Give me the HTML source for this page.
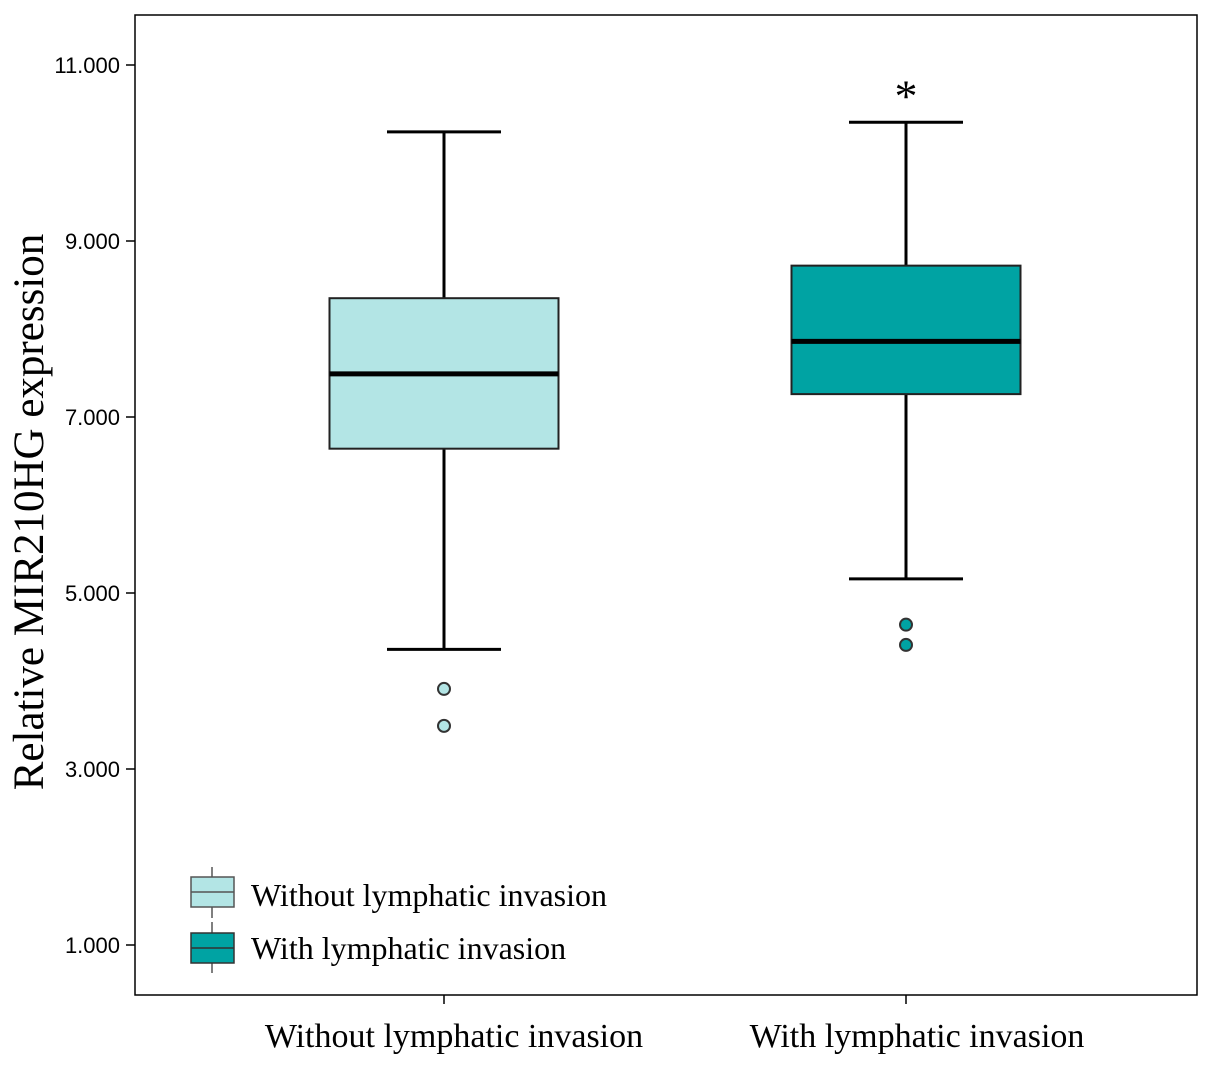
<!DOCTYPE html>
<html><head><meta charset="utf-8"><style>
body{margin:0;background:#fff;}
svg{display:block;}
text{font-family:"Liberation Serif",serif;fill:#000;}
.tick{font-family:"Liberation Sans",sans-serif;font-size:22px;}
</style></head><body>
<svg id="chart" width="1205" height="1067">
<rect x="135" y="15" width="1062" height="980" fill="#fff" stroke="#000" stroke-width="1.5"/>
<g id="ticks"></g>
<g id="boxes"></g>
<text x="43" y="512" font-size="43" text-anchor="middle" transform="rotate(-90 43 512)">Relative MIR210HG expression</text>
<text x="454" y="1047" font-size="34" text-anchor="middle">Without lymphatic invasion</text>
<text x="917" y="1047" font-size="34" text-anchor="middle">With lymphatic invasion</text>
<g>
<line x1="212" y1="867" x2="212" y2="918" stroke="#555" stroke-width="1.5"/>
<rect x="191" y="877" width="43" height="30" fill="#b3e5e5" stroke="#555" stroke-width="1.5"/>
<line x1="191" y1="892" x2="234" y2="892" stroke="#555" stroke-width="1.5"/>
<text x="251" y="906" font-size="32">Without lymphatic invasion</text>
<line x1="212" y1="922" x2="212" y2="973" stroke="#555" stroke-width="1.5"/>
<rect x="191" y="933" width="43" height="30" fill="#00a3a3" stroke="#333" stroke-width="1.5"/>
<line x1="191" y1="948" x2="234" y2="948" stroke="#333" stroke-width="1.5"/>
<text x="251" y="959" font-size="32">With lymphatic invasion</text>
</g>
</svg>
<script>
const categories=["Without lymphatic invasion","With lymphatic invasion"];
const q1=[6.64,7.26];
const medians=[7.49,7.86];
const q3=[8.35,8.72];
const whiskerLow=[4.36,5.16];
const whiskerHigh=[10.24,10.35];
const outliers=[[3.91,3.49],[4.64,4.41]];
const extremes=[[],[10.72]];
const yTicks=[1,3,5,7,9,11];
const yTickLabels=["1.000","3.000","5.000","7.000","9.000","11.000"];
const fills=["#b3e5e5","#00a3a3"];
const NS="http://www.w3.org/2000/svg";
function y(v){return 945-(v-1)*88;}
function x(i){return 444+i*462;}
function mk(tag,attrs,parent){const e=document.createElementNS(NS,tag);for(const k in attrs)e.setAttribute(k,attrs[k]);parent.appendChild(e);return e;}
const tg=document.getElementById('ticks');
yTicks.forEach((v,i)=>{
 const l=mk('line',{x1:126,x2:135,y1:y(v),y2:y(v),stroke:'#000','stroke-width':1.5},tg);
 
 
 const t=mk('text',{x:120,y:y(v)+8,'text-anchor':'end',class:'tick'},tg);
 t.textContent=yTickLabels[i];
 
 
});
const bg=document.getElementById('boxes');
categories.forEach((c,i)=>{
 const cx=x(i),hw=114.5,ww=57;
 const xt=mk('line',{x1:cx,x2:cx,y1:995,y2:1004,stroke:'#000','stroke-width':1.5},bg);
 
 
 const w1=mk('line',{x1:cx,x2:cx,y1:y(whiskerHigh[i]),y2:y(q3[i]),stroke:'#000','stroke-width':3},bg);
 
 
 const w2=mk('line',{x1:cx,x2:cx,y1:y(q1[i]),y2:y(whiskerLow[i]),stroke:'#000','stroke-width':3},bg);
 
 
 const c1=mk('line',{x1:cx-ww,x2:cx+ww,y1:y(whiskerHigh[i]),y2:y(whiskerHigh[i]),stroke:'#000','stroke-width':3},bg);
 
 
 const c2=mk('line',{x1:cx-ww,x2:cx+ww,y1:y(whiskerLow[i]),y2:y(whiskerLow[i]),stroke:'#000','stroke-width':3},bg);
 
 
 const b=mk('rect',{x:cx-hw,y:y(q3[i]),width:hw*2,height:y(q1[i])-y(q3[i]),fill:fills[i],stroke:'#222','stroke-width':2},bg);
 
 
 const m=mk('line',{x1:cx-hw,x2:cx+hw,y1:y(medians[i]),y2:y(medians[i]),stroke:'#000','stroke-width':5},bg);
 
 
 outliers[i].forEach(v=>{
  const o=mk('circle',{cx:cx,cy:y(v),r:6,fill:fills[i],stroke:'#333','stroke-width':2},bg);
  
  
 });
 extremes[i].forEach(v=>{
  const s=mk('text',{x:cx,y:y(v)+22,'text-anchor':'middle','font-size':46},bg);
  s.textContent='*';
  
  
 });
});
</script>
</body></html>
